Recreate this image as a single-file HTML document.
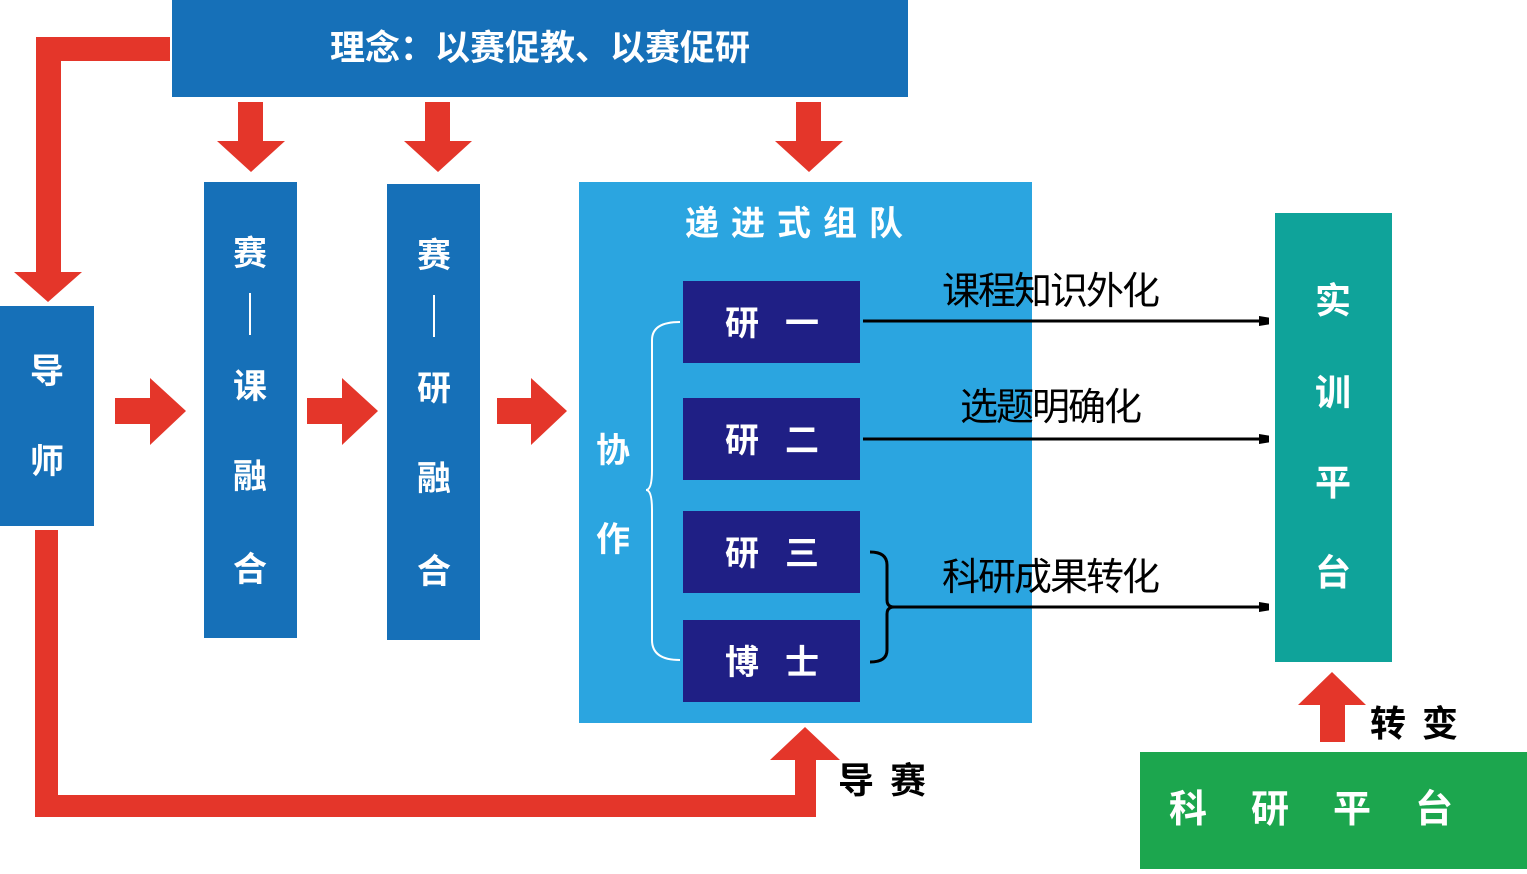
<!DOCTYPE html>
<html><head><meta charset="utf-8"><style>
body{margin:0;width:1527px;height:869px;overflow:hidden;background:#fff}
svg text{font-family:"Liberation Sans","Noto Sans CJK SC",sans-serif;font-weight:bold}
</style></head><body>
<svg width="1527" height="869" viewBox="0 0 1527 869" xmlns="http://www.w3.org/2000/svg">
<defs><marker id="ah" markerWidth="10" markerHeight="10" refX="9" refY="5" orient="auto" markerUnits="userSpaceOnUse"><path d="M0,0 L30,5 L0,10z" fill="#000"/></marker></defs>
<!-- top bar -->
<rect x="172" y="0" width="736" height="97" fill="#1670b8"/>
<text x="540" y="60" font-size="35" fill="#fff" text-anchor="middle">理念：以赛促教、以赛促研</text>
<!-- red L top-left -->
<path d="M170,37 H36 V272 H14 L48,302 L82,272 H61 V61 H170z" fill="#e4362a"/>
<!-- down arrows -->
<g fill="#e4362a">
<path d="M238,102 H263 V141 H285 L251,172 L217,141 H238z"/>
<path d="M425,102 H450 V141 H472 L438,172 L404,141 H425z"/>
<path d="M796,102 H821 V141 H843 L809,172 L775,141 H796z"/>
<!-- right arrows -->
<path d="M115,398 H150 V378 L186,411 L150,445 V424 H115z"/>
<path d="M307,398 H342 V378 L378,411 L342,445 V424 H307z"/>
<path d="M497,398 H531 V378 L567,411 L531,445 V424 H497z"/>
<!-- bottom path -->
<path d="M35,530 H58 V795 H795 V760 H770 L805,727 L840,760 H816 V817 H35z"/>
<!-- up arrow -->
<path d="M1320,742 H1345 V705 H1366 L1332,672 L1298,705 H1320z"/>
</g>
<!-- 导师 -->
<rect x="0" y="306" width="94" height="220" fill="#1670b8"/>
<text x="47" y="383" font-size="34" fill="#fff" text-anchor="middle">导</text>
<text x="47" y="473" font-size="34" fill="#fff" text-anchor="middle">师</text>
<!-- columns -->
<rect x="204" y="182" width="93" height="456" fill="#1670b8"/>
<g font-size="34" fill="#fff" text-anchor="middle">
<text x="250" y="265">赛</text><text x="250" y="398">课</text><text x="250" y="488">融</text><text x="250" y="581">合</text>
</g>
<line x1="250" y1="293" x2="250" y2="335" stroke="#fff" stroke-width="2"/>
<rect x="387" y="184" width="93" height="456" fill="#1670b8"/>
<g font-size="34" fill="#fff" text-anchor="middle">
<text x="434" y="267">赛</text><text x="434" y="400">研</text><text x="434" y="490">融</text><text x="434" y="583">合</text>
</g>
<line x1="434" y1="295" x2="434" y2="337" stroke="#fff" stroke-width="2"/>
<!-- big box -->
<rect x="579" y="182" width="453" height="541" fill="#2ba5e0"/>
<text x="800" y="235" font-size="34" fill="#fff" text-anchor="middle" letter-spacing="12">递进式组队</text>
<g fill="#1f1f85">
<rect x="683" y="281" width="177" height="82"/>
<rect x="683" y="398" width="177" height="82"/>
<rect x="683" y="511" width="177" height="82"/>
<rect x="683" y="620" width="177" height="82"/>
</g>
<g font-size="34" fill="#fff" text-anchor="middle">
<text x="742" y="335">研</text><text x="802" y="335">一</text>
<text x="742" y="452">研</text><text x="802" y="452">二</text>
<text x="742" y="565">研</text><text x="802" y="565">三</text>
<text x="742" y="674">博</text><text x="802" y="674">士</text>
<text x="613" y="462">协</text><text x="613" y="551">作</text>
</g>
<path d="M680,322 Q652,322 652,340 V470 Q652,490 646,490 Q652,490 652,510 V640 Q652,660 680,660" fill="none" stroke="#fff" stroke-width="2"/>
<!-- arrows -->
<line x1="863" y1="321" x2="1268" y2="321" stroke="#000" stroke-width="3" marker-end="url(#ah)"/>
<line x1="863" y1="439" x2="1268" y2="439" stroke="#000" stroke-width="3" marker-end="url(#ah)"/>
<line x1="890" y1="607" x2="1268" y2="607" stroke="#000" stroke-width="3" marker-end="url(#ah)"/>
<path d="M870,552 Q887,552 887,565 V600 Q887,607 894,607 Q887,607 887,614 V650 Q887,662 870,662" fill="none" stroke="#000" stroke-width="3"/>
<g font-size="38" fill="#000" text-anchor="middle" font-weight="normal" letter-spacing="-2">
<text x="1050" y="304" style="font-weight:normal">课程知识外化</text>
<text x="1050" y="420" style="font-weight:normal">选题明确化</text>
<text x="1050" y="590" style="font-weight:normal">科研成果转化</text>
</g>
<!-- right teal -->
<rect x="1275" y="213" width="117" height="449" fill="#0fa39a"/>
<g font-size="36" fill="#fff" text-anchor="middle">
<text x="1333" y="313">实</text><text x="1333" y="405">训</text><text x="1333" y="495">平</text><text x="1333" y="585">台</text>
</g>
<text x="1370" y="736" font-size="36" fill="#000" letter-spacing="16">转变</text>
<text x="838" y="793" font-size="36" fill="#000" letter-spacing="16">导赛</text>
<rect x="1140" y="752" width="387" height="117" fill="#1ca64e"/>
<text x="1333" y="822" font-size="38" fill="#fff" text-anchor="middle" letter-spacing="44">科研平台</text>
</svg>
</body></html>
